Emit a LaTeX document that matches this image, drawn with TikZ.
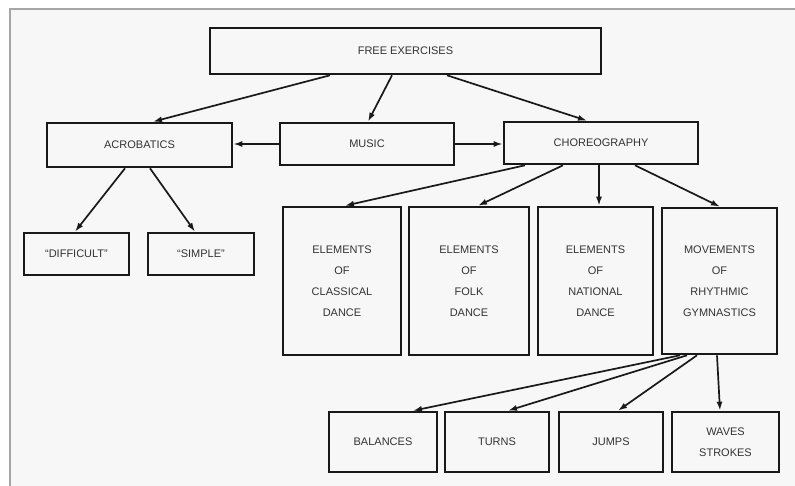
\documentclass[tikz,border=0pt]{standalone}
\usepackage{fontspec}
\setmainfont{Liberation Sans}
\usetikzlibrary{arrows.meta}
\begin{document}
\begin{tikzpicture}[x=1pt,y=-1pt,
  box/.style={draw=black!90, line width=2.6pt, inner sep=0pt, align=center,
    font=\fontsize{11}{21}\selectfont, text=black!80},
  arr/.style={draw=black!90, line width=1.7pt, -{Latex[length=9pt,width=6pt]}}]
\useasboundingbox (0,0) rectangle (795,486);
\fill[white] (0,0) rectangle (795,486);
\fill[black!3] (10,9) rectangle (795,486);
\draw[black!35, line width=1.2pt] (10,486) -- (10,9) -- (795,9);

\node[box, minimum width=391pt, minimum height=46pt] (free) at (405.5,51) {FREE EXERCISES};
\node[box, minimum width=185pt, minimum height=44pt] (acro) at (139.5,145) {ACROBATICS};
\node[box, minimum width=174pt, minimum height=42pt] (music) at (367,144) {MUSIC};
\node[box, minimum width=194pt, minimum height=42pt] (choreo) at (601,143) {CHOREOGRAPHY};
\node[box, minimum width=105pt, minimum height=42pt] (diff) at (76.5,254) {``DIFFICULT''};
\node[box, minimum width=106pt, minimum height=42pt] (simple) at (201,254) {``SIMPLE''};
\node[box, minimum width=118pt, minimum height=148pt] (classical) at (342,281) {ELEMENTS\\OF\\CLASSICAL\\DANCE};
\node[box, minimum width=120pt, minimum height=148pt] (folk) at (469,281) {ELEMENTS\\OF\\FOLK\\DANCE};
\node[box, minimum width=115pt, minimum height=148pt] (national) at (595.5,281) {ELEMENTS\\OF\\NATIONAL\\DANCE};
\node[box, minimum width=115pt, minimum height=146pt] (mov) at (719.5,281) {MOVEMENTS\\OF\\RHYTHMIC\\GYMNASTICS};
\node[box, minimum width=108pt, minimum height=60pt] (balances) at (383,442) {BALANCES};
\node[box, minimum width=104pt, minimum height=60pt] (turns) at (497,442) {TURNS};
\node[box, minimum width=104pt, minimum height=60pt] (jumps) at (611,442) {JUMPS};
\node[box, minimum width=107pt, minimum height=60pt] (waves) at (725.5,442) {WAVES\\STROKES};

\draw[arr] ([xshift=-75.5pt]free.south) -- ([xshift=13.5pt]acro.north);
\draw[arr] ([xshift=-13.5pt]free.south) -- ([xshift=1pt]music.north);
\draw[arr] ([xshift=41.5pt]free.south) -- ([xshift=-14pt]choreo.north);
\draw[arr] (music.west) -- (music.west -| acro.east);
\draw[arr] (music.east) -- (music.east -| choreo.west);
\draw[arr] ([xshift=-14.5pt]acro.south) -- ([xshift=-1.5pt]diff.north);
\draw[arr] ([xshift=10.5pt]acro.south) -- ([xshift=-6pt]simple.north);
\draw[arr] ([xshift=-76pt]choreo.south) -- ([xshift=3pt]classical.north);
\draw[arr] ([xshift=-38pt]choreo.south) -- ([xshift=9pt]folk.north);
\draw[arr] ([xshift=-2pt]choreo.south) -- ([xshift=3.5pt]national.north);
\draw[arr] ([xshift=34pt]choreo.south) -- ([xshift=0.5pt]mov.north);
\draw[arr] ([xshift=-39.5pt]mov.south) -- ([xshift=30pt]balances.north);
\draw[arr] ([xshift=-32.5pt]mov.south) -- ([xshift=11pt]turns.north);
\draw[arr] ([xshift=-22.5pt]mov.south) -- ([xshift=7pt]jumps.north);
\draw[arr] ([xshift=-2.5pt]mov.south) -- ([xshift=-5.5pt]waves.north);
\end{tikzpicture}
\end{document}
